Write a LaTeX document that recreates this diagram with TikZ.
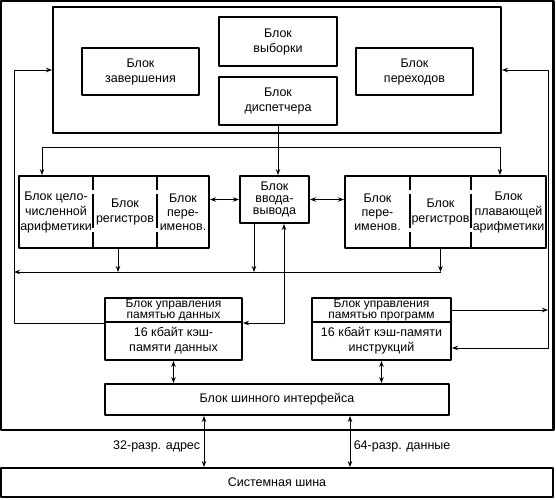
\documentclass[tikz,border=0pt]{standalone}
\usepackage{fontspec}
\setmainfont{Liberation Sans}
\usetikzlibrary{arrows.meta}

\begin{document}
\begin{tikzpicture}[x=1pt, y=-1pt, font=\fontsize{12.5}{15}\selectfont, line join=round, >={Stealth[length=6pt,width=4.5pt]},
	blk/.style={draw, line width=2pt, align=center, inner sep=0pt, outer sep=1pt},
	cell/.style={align=center, inner sep=0pt, outer sep=0pt},
	sep/.style={line width=2pt, dash pattern=on 14pt off 4pt on 34pt off 4pt on 16pt},
	link/.style={line width=0.9pt},
	tight/.style={font=\fontsize{12}{11}\selectfont}]
	\useasboundingbox (0,0) rectangle (556,499);
	\draw[line width=2.4pt] (1.2,1.2) rectangle (553.5,430);
	% upper unit
	\node[blk, minimum width=448pt, minimum height=126pt] (core) at (277,70) {};
	\node[blk, minimum width=117pt, minimum height=47pt] (zav) at (140.5,71.5) {Блок\\завершения};
	\node[blk, minimum width=118pt, minimum height=49pt] (vyb) at (278,41.5) {Блок\\выборки};
	\node[blk, minimum width=118pt, minimum height=48pt] (disp) at (278,101) {Блок\\диспетчера};
	\node[blk, minimum width=117pt, minimum height=47pt] (per) at (414.5,71.5) {Блок\\переходов};
	% middle row
	\node[blk, minimum width=190pt, minimum height=72pt] (lgrp) at (114,212) {};
	\node[cell, minimum width=74pt, minimum height=72pt] (lint) at (56,212) {Блок цело-\\численной\\арифметики};
	\node[cell, minimum width=64pt, minimum height=72pt] (lreg) at (125,212) {Блок\\регистров};
	\node[cell, minimum width=52pt, minimum height=72pt, font=\fontsize{12.5}{14}\selectfont] (lren) at (183,212) {Блок\\пере-\\именов.};
	\draw[sep] (lreg.north west) -- (lreg.south west);
	\draw[sep] (lreg.north east) -- (lreg.south east);
	\node[blk, minimum width=69pt, minimum height=47pt, font=\fontsize{12.5}{12}\selectfont] (io) at (274.5,199.5) {Блок\\ввода-\\вывода};
	\node[blk, minimum width=201pt, minimum height=72pt] (rgrp) at (445.5,212) {};
	\node[cell, minimum width=65pt, minimum height=72pt, font=\fontsize{12.5}{14}\selectfont] (rren) at (377.5,212) {Блок\\пере-\\именов.};
	\node[cell, minimum width=61pt, minimum height=72pt] (rreg) at (440.5,212) {Блок\\регистров};
	\node[cell, minimum width=75pt, minimum height=72pt] (rflt) at (508.5,212) {Блок\\плавающей\\арифметики};
	\draw[sep] (rreg.north west) -- (rreg.south west);
	\draw[sep] (rreg.north east) -- (rreg.south east);
	% memory units
	\node[blk, tight, minimum width=137pt, minimum height=24pt] (dmu) at (173.5,310) {Блок управления\\памятью данных};
	\node[blk, minimum width=137pt, minimum height=38pt] (dmc) at (173.5,341) {16 кбайт кэш-\\памяти данных};
	\node[blk, tight, minimum width=139pt, minimum height=24pt] (pmu) at (381.5,310) {Блок управления\\памятью программ};
	\node[blk, minimum width=139pt, minimum height=38pt] (pmc) at (381.5,341) {16 кбайт кэш-памяти\\инструкций};
	\node[blk, minimum width=344pt, minimum height=31pt] (biu) at (277,399.5) {Блок шинного интерфейса};
	\node[blk, minimum width=552pt, minimum height=29pt] (sys) at (277,482.5) {Системная шина};
	% connectors
	\coordinate (dl) at (42,147);
	\coordinate (dr) at (500,147);
	\coordinate (lup) at (14,70);
	\coordinate (rup) at (548,70);
	\coordinate (busl) at (14,272);
	\draw[link,->] (disp.south) -- (disp.south |- io.north);
	\draw[link,<->] (dl |- lgrp.north) -- (dl) -- (dr) -- (dr |- rgrp.north);
	\draw[link,<->] (io.west -| lgrp.east) -- (io.west);
	\draw[link,<->] (io.east) -- (io.east -| rgrp.west);
	\draw[link,->] ([xshift=4pt]lgrp.south) -- ([xshift=4pt]lgrp.south |- busl);
	\draw[link,->] ([xshift=15pt]io.south west) -- ([xshift=15pt]io.south west |- busl);
	\draw[link,->] (rreg.south) -- (rreg.south |- busl);
	\draw[link,->] (rreg.south |- busl) -- (busl);
	\draw[link,->] (dmu.south west) -| (lup) -- (core.west);
	\draw[link,<->] (dmu.south east) -| ([xshift=-26pt]io.south east);
	\draw[link,<->] (core.east) -- (rup) |- ([yshift=-7pt]pmc.east);
	\draw[link,->] (pmu.east) -- (pmu.east -| rup);
	\draw[link,<->] (dmc.south) -- (dmc.south |- biu.north);
	\draw[link,<->] (pmc.south) -- (pmc.south |- biu.north);
	\draw[link,<->] ([xshift=100pt]biu.south west) -- ([xshift=100pt]biu.south west |- sys.north) node[pos=0.6, left] {32-разр. адрес};
	\draw[link,<->] ([xshift=-100pt]biu.south east) -- ([xshift=-100pt]biu.south east |- sys.north) node[pos=0.6, right] {64-разр. данные};
\end{tikzpicture}
\end{document}
